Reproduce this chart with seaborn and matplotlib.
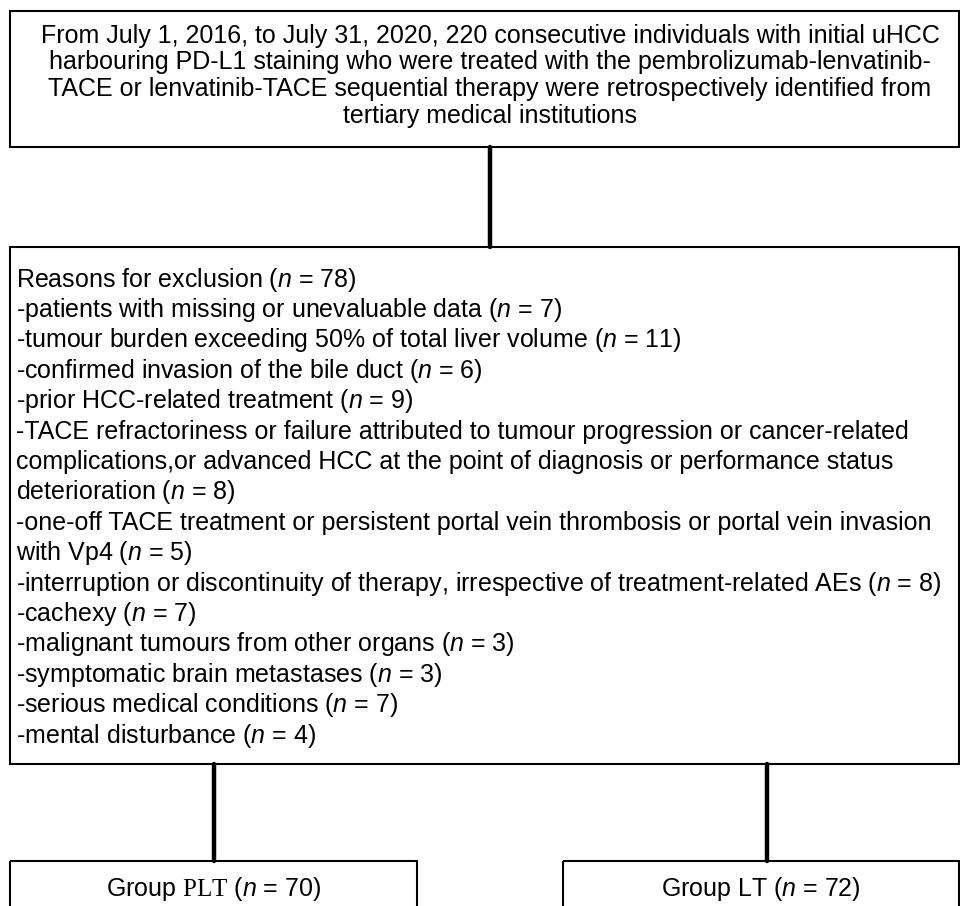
import matplotlib.pyplot as plt
import matplotlib.patches as mpatches
import pandas as pd
import seaborn as sns

# Flowchart content
HEADER_LINES = [
    'From July 1, 2016, to July 31, 2020, 220 consecutive individuals with initial uHCC',
    'harbouring PD-L1 staining who were treated with the pembrolizumab-lenvatinib-',
    'TACE or lenvatinib-TACE sequential therapy were retrospectively identified from',
    'tertiary medical institutions',
]
EXCLUSION_TOTAL = 78
REASON_TEXT = [
    ['-patients with missing or unevaluable data'],
    ['-tumour burden exceeding 50% of total liver volume'],
    ['-confirmed invasion of the bile duct'],
    ['-prior HCC-related treatment'],
    ['-TACE refractoriness or failure attributed to tumour progression or cancer-related',
     'complications,or advanced HCC at the point of diagnosis or performance status',
     'deterioration'],
    ['-one-off TACE treatment or persistent portal vein thrombosis or portal vein invasion',
     'with Vp4'],
    ['-interruption or discontinuity of therapy, irrespective of treatment-related AEs'],
    ['-cachexy'],
    ['-malignant tumours from other organs'],
    ['-symptomatic brain metastases'],
    ['-serious medical conditions'],
    ['-mental disturbance'],
]
REASON_N = [7, 11, 6, 9, 8, 5, 8, 7, 3, 3, 7, 4]
GROUP_NAMES = ['PLT', 'LT']
GROUP_N = [70, 72]

# Layout (pixel coordinates, y downwards)
W, H = 960, 906
TOP_BOX = (10, 11, 949, 136)
EXCL_BOX = (10, 247, 949, 517)
GROUP_BOXES = [(10, 861, 407, 80), (563, 861, 396, 80)]
CONNECTORS = [(490, 147, 247), (214, 764, 861), (767, 764, 861)]
FONT_SIZE = 18


def n_label(n):
    return f'($n$ = {n})'


def main():
    sns.set_theme(style='white')
    plt.rcParams['font.family'] = ['Liberation Sans', 'DejaVu Sans']
    plt.rcParams['mathtext.fontset'] = 'custom'
    plt.rcParams['mathtext.it'] = 'Liberation Sans:italic'
    plt.rcParams['mathtext.rm'] = 'Liberation Serif'

    fig = plt.figure(figsize=(W / 100, H / 100), dpi=100)
    ax = fig.add_axes([0, 0, 1, 1])

    # boxes
    for x, y, w, h in [TOP_BOX, EXCL_BOX] + GROUP_BOXES:
        ax.add_patch(mpatches.Rectangle((x, y), w, h, fill=False,
                                        edgecolor='black', lw=1.5))

    # connectors
    seg = pd.DataFrame(
        [(cx, yy, i) for i, (cx, y0, y1) in enumerate(CONNECTORS) for yy in (y0, y1)],
        columns=['x', 'y', 'seg'])
    sns.lineplot(data=seg, x='x', y='y', units='seg', estimator=None, sort=False,
                 color='black', lw=3.2, legend=False, ax=ax)

    # header text
    for i, line in enumerate(HEADER_LINES):
        ax.text(490, 42.7 + i * 26.7, line, ha='center', va='baseline',
                fontsize=FONT_SIZE, color='black')

    # exclusion text
    lines = [f'Reasons for exclusion {n_label(EXCLUSION_TOTAL)}']
    for parts, n in zip(REASON_TEXT, REASON_N):
        lines.extend(parts[:-1])
        lines.append(f'{parts[-1]} {n_label(n)}')
    for i, line in enumerate(lines):
        ax.text(16, 286.7 + i * 30.4, line, ha='left', va='baseline',
                fontsize=FONT_SIZE, color='black')

    # group labels
    for (x, y, w, h), name, n in zip(GROUP_BOXES, GROUP_NAMES, GROUP_N):
        label = f'Group $\\mathrm{{{name}}}$ {n_label(n)}' if name == 'PLT' \
            else f'Group {name} {n_label(n)}'
        ax.text(x + w / 2, 896, label, ha='center', va='baseline',
                fontsize=FONT_SIZE, color='black')

    ax.set_xlim(0, W)
    ax.set_ylim(H, 0)
    ax.axis('off')
    fig.savefig('out.png', dpi=100, facecolor='white')
    plt.close(fig)


if __name__ == '__main__':
    main()
